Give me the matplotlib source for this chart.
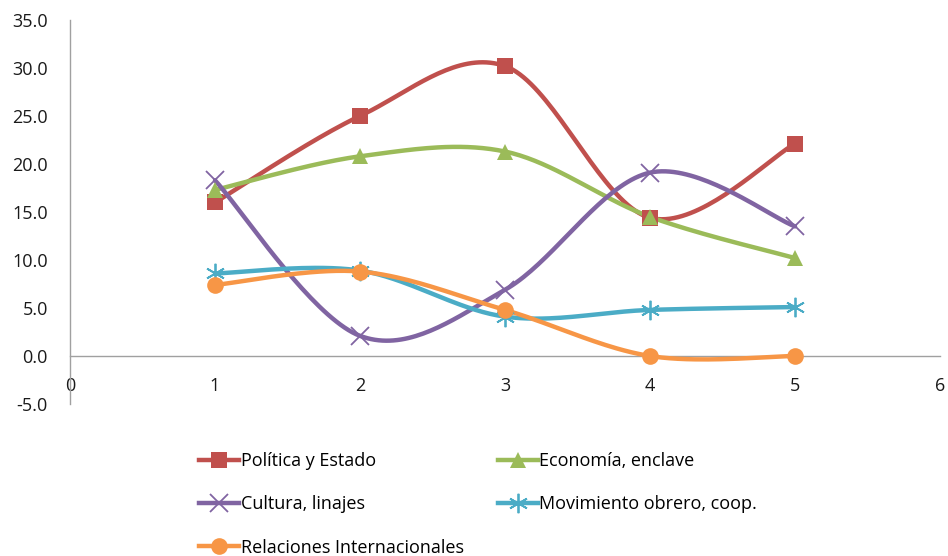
import numpy as np
import matplotlib
matplotlib.use("Agg")
import matplotlib.pyplot as plt
from matplotlib.lines import Line2D

plt.rcParams['font.family'] = ['Open Sans', 'DejaVu Sans']

# datos
x_vals = [1, 2, 3, 4, 5]
politica = [16.0, 25.0, 30.2, 14.4, 22.1]
economia = [17.3, 20.8, 21.3, 14.5, 10.2]
cultura = [18.3, 2.1, 6.9, 19.1, 13.5]
movimiento = [8.6, 8.9, 4.1, 4.8, 5.1]
relaciones = [7.4, 8.8, 4.8, 0.0, 0.0]

nombres = ["Política y Estado", "Economía, enclave", "Cultura, linajes",
           "Movimiento obrero, coop.", "Relaciones Internacionales"]
colores = ["#C0504D", "#9BBB59", "#8064A2", "#4BACC6", "#F79646"]
y_ticks = [-5, 0, 5, 10, 15, 20, 25, 30, 35]
x_ticks = [0, 1, 2, 3, 4, 5, 6]


# curva suavizada estilo Excel (Catmull-Rom / Bezier)
def suavizar(xs, ys, n=40):
    p = np.column_stack([xs, ys]).astype(float)
    p_ext = np.vstack([p[0], p, p[-1]])
    out = []
    for i in range(len(p) - 1):
        p0, p1, p2, p3 = p_ext[i], p_ext[i + 1], p_ext[i + 2], p_ext[i + 3]
        c1 = p1 + (p2 - p0) / 6.0
        c2 = p2 - (p3 - p1) / 6.0
        t = np.linspace(0, 1, n)[:, None]
        b = ((1 - t) ** 3) * p1 + 3 * ((1 - t) ** 2) * t * c1 + 3 * (1 - t) * t ** 2 * c2 + t ** 3 * p2
        out.append(b if i == 0 else b[1:])
    b = np.vstack(out)
    return b[:, 0], b[:, 1]


fig = plt.figure(figsize=(9.48, 5.56), dpi=100)
ax = fig.add_axes([70 / 948, 1 - 404 / 556, 870 / 948, 384 / 556])

series = [politica, economia, cultura, movimiento, relaciones]
marcadores = [
    dict(marker='s', markersize=11, markeredgewidth=0),
    dict(marker='^', markersize=12, markeredgewidth=0),
    dict(marker='x', markersize=13, markeredgewidth=1.3),
    dict(marker=(6, 2, 0), markersize=14, markeredgewidth=1.3),
    dict(marker='o', markersize=12, markeredgewidth=0),
]

handles = []
for ys, c, m, nom in zip(series, colores, marcadores, nombres):
    sx, sy = suavizar(x_vals, ys)
    ax.plot(sx, sy, color=c, lw=3.2, solid_capstyle='round', zorder=3)
    ax.plot(x_vals, ys, linestyle='none', color=c, markeredgecolor=c, zorder=4, **m)
    handles.append(Line2D([0], [0], color=c, lw=3.2, markeredgecolor=c, label=nom, **m))

ax.set_xlim(0, 6)
ax.set_ylim(-5, 35)
ax.set_yticks(y_ticks)
ax.set_yticklabels([f"{v:.1f}" for v in y_ticks])
ax.set_xticks(x_ticks)
ax.set_xticklabels([str(v) for v in x_ticks])

for lado in ['top', 'right']:
    ax.spines[lado].set_visible(False)
ax.spines['bottom'].set_position(('data', 0))
ax.spines['bottom'].set_color('#a0a0a0')
ax.spines['left'].set_color('#a0a0a0')
ax.spines['bottom'].set_linewidth(1.0)
ax.spines['left'].set_linewidth(1.0)
ax.tick_params(axis='both', length=0, labelsize=13, colors='#1a1a1a')
ax.tick_params(axis='y', pad=16)
ax.tick_params(axis='x', pad=15)

# orden por filas como en la leyenda de Excel
orden = [0, 2, 4, 1, 3]
fig.legend(handles=[handles[i] for i in orden], loc='upper left',
           bbox_to_anchor=(190 / 948, 1 - 443 / 556),
           ncol=2, frameon=False, fontsize=13, handlelength=2.2, handletextpad=0.1,
           labelspacing=1.4, columnspacing=1.9, borderpad=0)

fig.savefig("out.png", dpi=100)
